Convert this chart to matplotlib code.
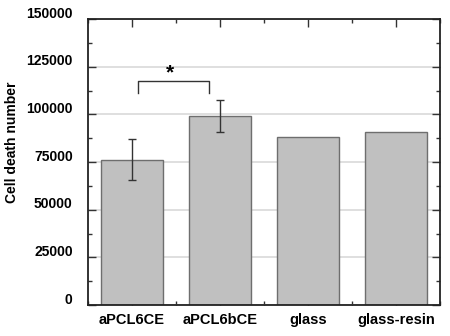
import numpy as np
import matplotlib
matplotlib.use('Agg')
import matplotlib.pyplot as plt
import matplotlib.transforms as mtransforms
from matplotlib.ticker import MultipleLocator

# data
categories = ['aPCL6CE', 'aPCL6bCE', 'glass', 'glass-resin']
cell_death = [76300, 99000, 88200, 90500]
err = [10700, 8400, 0, 0]

plt.rcParams['font.family'] = ['Liberation Sans', 'DejaVu Sans']
plt.rcParams['font.weight'] = 'bold'

fig = plt.figure(figsize=(4.5, 3.36), dpi=100)
ax = fig.add_axes([88/450, 1 - 305/336, 352/450, 286/336])

x = np.arange(len(categories))
ax.bar(x, cell_death, width=0.7, color='#c0c0c0', edgecolor='#6e6e6e',
       linewidth=1.0, zorder=2)
for xi, yi, ei in zip(x, cell_death, err):
    if ei > 0:
        ax.errorbar(xi, yi, yerr=ei, fmt='none', ecolor='#333333',
                    elinewidth=1.0, capsize=3, capthick=1.0, zorder=3)

# significance bracket
ax.plot([0.07, 0.07, 0.88, 0.88], [111000, 117300, 117300, 111000],
        color='#333333', lw=1.0, zorder=3)
ax.text(0.43, 121500, '*', ha='center', va='center', fontsize=15,
        fontweight='bold')

ax.set_xlim(-0.5, 3.5)
ax.set_ylim(0, 150000)
ax.set_xticks(x)
ax.set_xticklabels(categories, fontsize=10.5, fontweight='bold')
ax.xaxis.set_minor_locator(MultipleLocator(1, offset=0.5))
ax.yaxis.set_major_locator(MultipleLocator(25000))
ax.yaxis.set_minor_locator(MultipleLocator(12500))
ax.set_yticklabels([f'{int(v)}' for v in ax.get_yticks()], fontsize=10,
                   fontweight='bold')
ax.tick_params(which='both', direction='in', top=True, right=True,
               color='#333333')
ax.tick_params(which='major', length=6, width=1.0)
ax.tick_params(which='minor', length=3, width=1.0)
ax.tick_params(axis='y', which='major', pad=11)
ax.tick_params(axis='x', which='major', pad=6)

# labels sit a bit above their ticks in the original
off = mtransforms.ScaledTranslation(0, 5/72, fig.dpi_scale_trans)
for lab in ax.get_yticklabels():
    lab.set_transform(lab.get_transform() + off)

ax.grid(axis='y', which='major', color='#d9d9d9', lw=1.2, zorder=0)
ax.set_axisbelow(True)
for sp in ax.spines.values():
    sp.set_linewidth(1.3)
    sp.set_color('#222222')

ax.set_ylabel('Cell death number', fontsize=10, fontweight='bold')
ax.yaxis.set_label_coords(-0.195, 0.57)

plt.savefig('out.png', dpi=100)
